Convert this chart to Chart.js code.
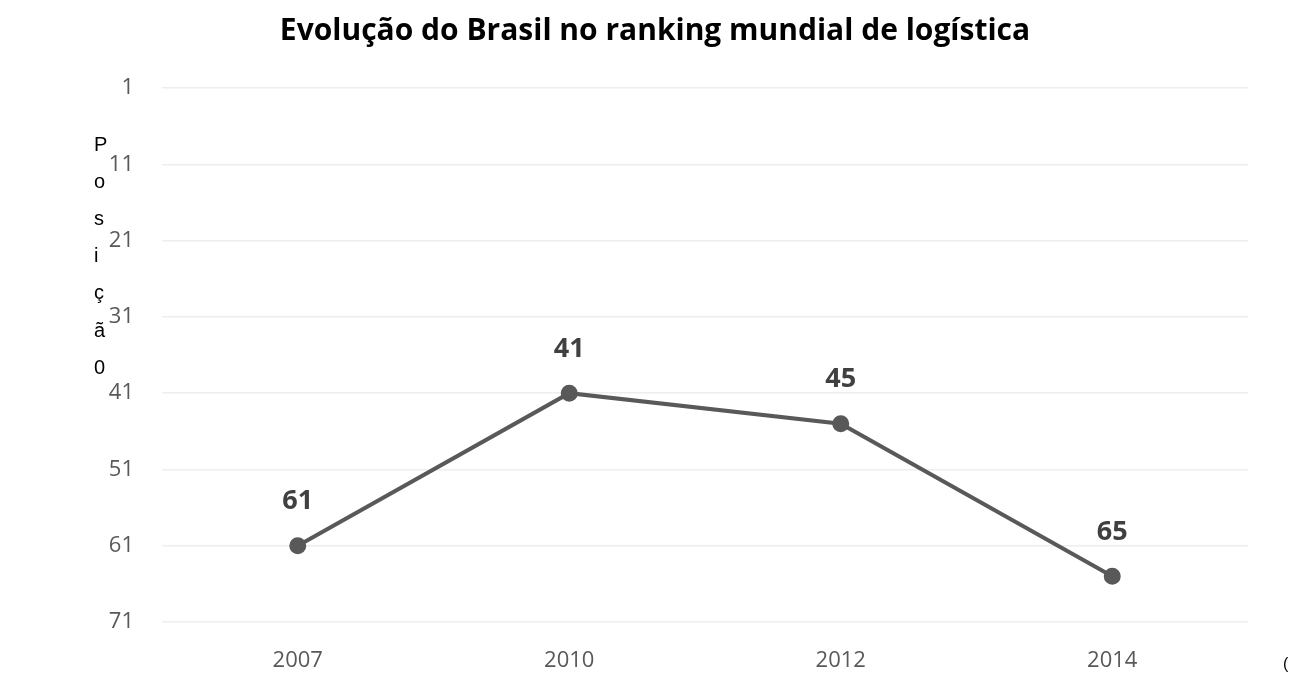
<!DOCTYPE html>
<html>
<head>
<meta charset="utf-8">
<script src="https://cdn.jsdelivr.net/npm/chart.js@4"></script>
<style>
  html, body { margin: 0; padding: 0; background: #fff; }
  #wrap { position: relative; width: 1293px; height: 675px; }
</style>
</head>
<body>
<div id="wrap"><canvas id="rankChart" width="1293" height="675"></canvas></div>
<script>
const years = ["2007", "2010", "2012", "2014"];
const positions = [61, 41, 45, 65];
const yTicks = [1, 11, 21, 31, 41, 51, 61, 71];
const titleText = "Evolução do Brasil no ranking mundial de logística";
const yTitleChars = ["P", "o", "s", "i", "ç", "ã", "0"];

// rótulos de dados e textos soltos
const extraText = {
  id: 'extraText',
  afterDatasetsDraw(chart) {
    const ctx = chart.ctx;
    ctx.save();
    // valores acima dos pontos
    const meta = chart.getDatasetMeta(0);
    ctx.font = 'bold 27px "Open Sans", sans-serif';
    ctx.fillStyle = '#404040';
    ctx.textAlign = 'center';
    ctx.textBaseline = 'middle';
    meta.data.forEach((pt, i) => {
      ctx.fillText(String(positions[i]), pt.x, pt.y - 44);
    });
    // título
    ctx.font = 'bold 30px "Open Sans", sans-serif';
    ctx.fillStyle = '#000';
    ctx.fillText(titleText, 655, 31);
    // título do eixo y, uma letra por linha
    ctx.font = '20px "Liberation Sans", Arial, sans-serif';
    ctx.textAlign = 'left';
    yTitleChars.forEach((c, i) => {
      ctx.fillText(c, 94, 145 + i * 37.2);
    });
    ctx.font = '16px "Liberation Sans", Arial, sans-serif';
    ctx.fillText("(", 1283, 665);
    ctx.restore();
  }
};

new Chart(document.getElementById("rankChart"), {
  type: 'line',
  data: {
    labels: years,
    datasets: [{
      data: positions,
      borderColor: '#595959',
      backgroundColor: '#595959',
      borderWidth: 4,
      pointRadius: 6.5,
      pointHoverRadius: 6.5,
      tension: 0
    }]
  },
  options: {
    responsive: false,
    animation: false,
    layout: { padding: { left: 0, right: 45, top: 88, bottom: 0 } },
    plugins: {
      legend: { display: false },
      title: { display: false },
      tooltip: { enabled: false }
    },
    scales: {
      x: {
        offset: true,
        grid: { display: false, drawTicks: false },
        border: { display: false },
        ticks: {
          padding: 26,
          color: '#595959',
          font: { family: '"Open Sans", sans-serif', size: 22 }
        },
        afterFit: (s) => { s.height = 53; }
      },
      y: {
        reverse: true,
        min: yTicks[0],
        max: yTicks[yTicks.length - 1],
        afterBuildTicks: (s) => { s.ticks = yTicks.map(v => ({ value: v })); },
        grid: { color: '#eeeeee', lineWidth: 1.5, drawTicks: false },
        border: { display: false },
        ticks: {
          padding: 28,
          color: '#595959',
          font: { family: '"Open Sans", sans-serif', size: 22 }
        },
        afterFit: (s) => { s.width = 162; }
      }
    }
  },
  plugins: [extraText]
});
</script>
</body>
</html>
